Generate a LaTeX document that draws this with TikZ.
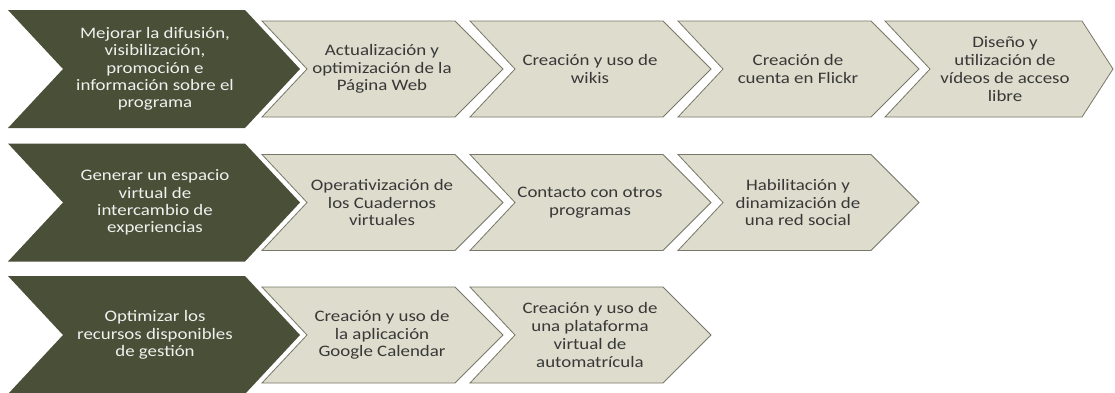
\documentclass[tikz,border=0pt]{standalone}
\usepackage{fontspec}
\setmainfont{Carlito}[FakeStretch=1.18]
\usepackage{tikz}

\definecolor{olivedark}{RGB}{74,79,56}
\definecolor{sandlight}{RGB}{221,220,205}
\definecolor{sandedge}{RGB}{120,120,104}

\begin{document}
\begin{tikzpicture}[x=1pt,y=-1pt,
		goal/.style={fill=olivedark},
		action/.style={fill=sandlight,draw=sandedge,line width=0.8pt,line join=miter},
		goaltext/.style={align=center,text=white!92!olivedark,font=\fontsize{16}{17.3}\selectfont},
		acttext/.style={align=center,text=black!78,font=\fontsize{16}{17.8}\selectfont}]
				\clip (0,0) rectangle (1115,392);
				\fill[white] (0,0) rectangle (1115,392);
				
				% dark chevrons (goals)
				\foreach \m in {69, 202.5, 335}{
					\fill[goal] (8,\m-59) -- (245,\m-59) -- (300,\m) -- (245,\m+59) -- (8,\m+59) -- (63,\m) -- cycle;
				}
				
				% light chevrons (actions)
				\foreach \m/\s in
				{69/262, 69/470, 69/678, 202.5/262, 202.5/470, 202.5/678, 335/262, 335/470}{
					\draw[action] (\s,\m-48) -- ++(193,0) -- ++(48,48) -- ++(-48,48) -- ++(-193,0) -- ++(45,-48) -- cycle;
				}
				\draw[action] (885,21) -- (1082,21) -- (1113,69) -- (1082,117) -- (885,117) -- (930,69) -- cycle; % last one, row 1
				
				% row 1
				\node[goaltext] (g1) at (155,69) {Mejorar la difusión,\\visibilización,\\promoción e\\información sobre el\\programa};
				\node[acttext] (a11) at (382,69) {Actualización y\\optimización de la\\Página Web};
				\node[acttext] (a12) at (590,69) {Creación y uso de\\wikis};
				\node[acttext] (a13) at (798,69) {Creación de\\cuenta en Flickr};
				\node[acttext] (a14) at (1005,69) {Diseño y\\utilización de\\vídeos de acceso\\libre};
				
				% row 2
				\node[goaltext] (g2) at (155,202.5) {Generar un espacio\\virtual de\\intercambio de\\experiencias};
				\node[acttext] (a21) at (382,202.5) {Operativización de\\los Cuadernos\\virtuales};
				\node[acttext] (a22) at (590,202.5) {Contacto con otros\\programas};
				\node[acttext] (a23) at (798,202.5) {Habilitación y\\dinamización de\\una red social};
				
				% row 3
				\node[goaltext] (g3) at (155,335) {Optimizar los\\recursos disponibles\\de gestión};
				\node[acttext] (a31) at (382,335) {Creación y uso de\\la aplicación\\Google Calendar};
				\node[acttext] (a32) at (590,335) {Creación y uso de\\una plataforma\\virtual de\\automatrícula};
			\end{tikzpicture}
\end{document}
